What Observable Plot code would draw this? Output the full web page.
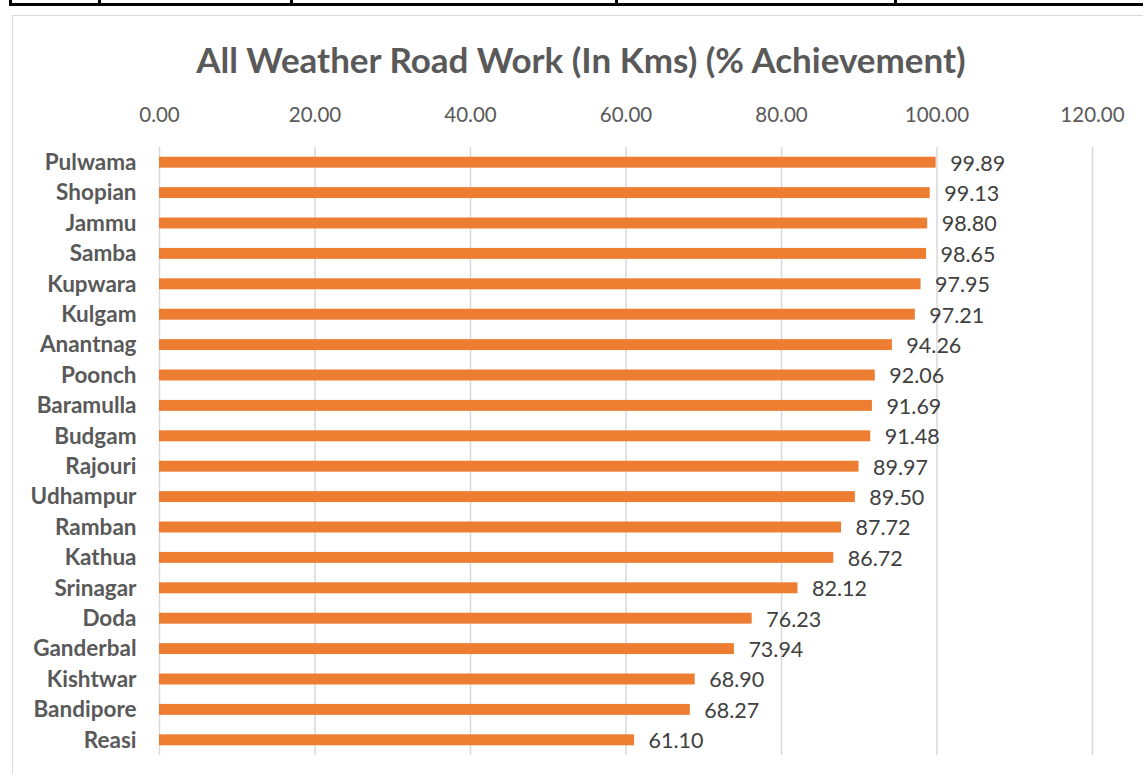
<!DOCTYPE html>
<html>
<head>
<meta charset="utf-8">
<script src="https://cdn.jsdelivr.net/npm/d3@7"></script>
<script src="https://cdn.jsdelivr.net/npm/@observablehq/plot@0.6"></script>
<style>
  html, body { margin: 0; padding: 0; background: #fff; overflow: hidden; }
  #page { position: relative; width: 1143px; height: 774px; overflow: hidden; font-family: Lato, "Open Sans", sans-serif; }
  .deco { position: absolute; background: #000; }
  #frame { position: absolute; left: 12px; top: 15px; width: 1300px; height: 900px; border: 1.5px solid #d9d9d9; box-sizing: border-box; }
  #title { position: absolute; left: 0; top: 0; width: 1143px; height: 90px; text-align: center; line-height: 1; }
  #title span { position: absolute; left: 0; width: 1162px; top: 42px; font-size: 35px; font-weight: 700; color: #595959; white-space: nowrap; }
  #chart { position: absolute; left: 0; top: 90px; }
</style>
</head>
<body>
<div id="page">
  <div class="deco" style="left:9px;top:3px;width:1140px;height:3px"></div>
  <div class="deco" style="left:9px;top:0;width:3px;height:4px"></div>
  <div class="deco" style="left:98px;top:0;width:3px;height:4px"></div>
  <div class="deco" style="left:290px;top:0;width:3px;height:4px"></div>
  <div class="deco" style="left:615px;top:0;width:3px;height:4px"></div>
  <div class="deco" style="left:894px;top:0;width:3px;height:4px"></div>
  <div id="frame"></div>
  <div id="title"><span>All Weather Road Work (In Kms) (% Achievement)</span></div>
  <div id="chart"></div>
</div>
<script>
const districts = ["Pulwama","Shopian","Jammu","Samba","Kupwara","Kulgam","Anantnag","Poonch","Baramulla","Budgam","Rajouri","Udhampur","Ramban","Kathua","Srinagar","Doda","Ganderbal","Kishtwar","Bandipore","Reasi"];
const achievement = [99.89,99.13,98.80,98.65,97.95,97.21,94.26,92.06,91.69,91.48,89.97,89.50,87.72,86.72,82.12,76.23,73.94,68.90,68.27,61.10];
const xTicks = [0,20,40,60,80,100,120];

const data = districts.map((d, i) => ({district: d, value: achievement[i]}));

const chart = Plot.plot({
  width: 1143,
  height: 684,
  marginTop: 57,
  marginBottom: 19,
  marginLeft: 159,
  marginRight: 51,
  style: {fontFamily: "Lato, 'Open Sans', sans-serif", background: "transparent", overflow: "visible"},
  x: {domain: [0, 120], ticks: xTicks},
  y: {domain: districts, paddingInner: 0.64, paddingOuter: 0.32, round: false},
  marks: [
    Plot.gridX(xTicks, {stroke: "#d9d9d9", strokeOpacity: 1, strokeWidth: 1.5}),
    Plot.barX(data, {x: "value", y: "district", fill: "#ED7D31"}),
    Plot.text(data, {x: "value", y: "district", text: d => d.value.toFixed(2), textAnchor: "start", dx: 14, dy: 1, fontSize: 21.5, fill: "#404040"}),
    Plot.axisX(xTicks, {anchor: "top", tickSize: 0, tickPadding: 26, tickFormat: d => d.toFixed(2), fontSize: 20.5, color: "#595959", label: null}),
    Plot.axisY({anchor: "left", tickSize: 0, tickPadding: 23, fontSize: 22.5, fontWeight: "bold", color: "#595959", label: null})
  ]
});
document.getElementById("chart").appendChild(chart);
</script>
</body>
</html>
